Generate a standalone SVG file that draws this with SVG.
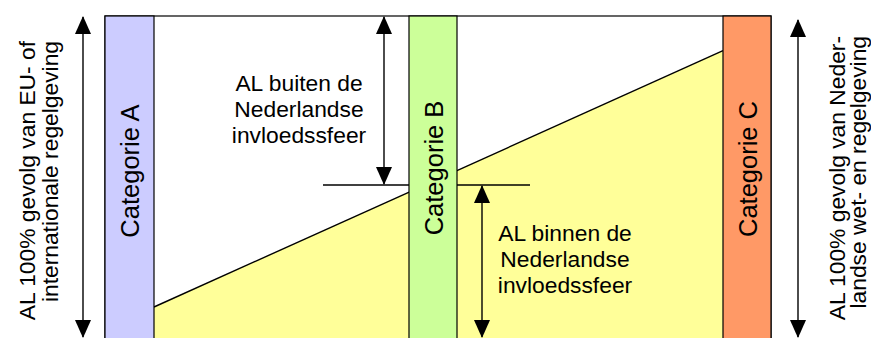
<svg xmlns="http://www.w3.org/2000/svg" width="871" height="338" viewBox="0 0 871 338">
<style>
.t{font-family:"Liberation Sans",Arial,sans-serif;font-size:22.8px;fill:#000}
.c{text-anchor:middle}
.e{text-anchor:end}
.cat{font-size:25.5px}
.bar{stroke:#000;stroke-width:1.2}
.ln{stroke:#000;stroke-width:1.4;fill:none}
</style>
<defs>
<marker id="ah" viewBox="0 0 18 16" refX="17" refY="8" markerWidth="18" markerHeight="16" markerUnits="userSpaceOnUse" orient="auto-start-reverse">
<path d="M0,0 L18,8 L0,16 Z" fill="#000"/>
</marker>
</defs>
<rect width="871" height="338" fill="#fff"/>
<g id="frame">
<rect x="105" y="16" width="666" height="340" fill="#fff" stroke="#000" stroke-width="1.2"/>
<polygon points="154,307 723,50.7 723,345 154,345" fill="#ffff99"/>
<line class="ln" x1="154" y1="307" x2="723" y2="50.7"/>
</g>
<g id="connectors">
<line class="ln" x1="323" y1="185" x2="530" y2="185"/>
<line class="ln" x1="83" y1="17" x2="83" y2="337" marker-start="url(#ah)" marker-end="url(#ah)"/>
<line class="ln" x1="798" y1="20" x2="798" y2="337" marker-start="url(#ah)" marker-end="url(#ah)"/>
<line class="ln" x1="384" y1="17" x2="384" y2="184" marker-start="url(#ah)" marker-end="url(#ah)"/>
<line class="ln" x1="482" y1="186" x2="482" y2="337" marker-start="url(#ah)" marker-end="url(#ah)"/>
</g>
<g id="catA">
<rect class="bar" x="105" y="16" width="49" height="340" fill="#ccccff"/>
<text class="t c cat" transform="translate(139,171) rotate(-90)">Categorie A</text>
</g>
<g id="catB">
<rect class="bar" x="409" y="16" width="48" height="340" fill="#ccff99"/>
<text class="t c cat" transform="translate(442.5,168) rotate(-90)">Categorie B</text>
</g>
<g id="catC">
<rect class="bar" x="723" y="16" width="48" height="340" fill="#ff9966"/>
<text class="t c cat" transform="translate(756.5,169) rotate(-90)">Categorie C</text>
</g>
<g id="buiten">
<text class="t c" x="299" y="91">AL buiten de</text>
<text class="t c" x="299" y="117">Nederlandse</text>
<text class="t c" x="299" y="143">invloedssfeer</text>
</g>
<g id="binnen">
<text class="t c" x="565" y="241">AL binnen de</text>
<text class="t c" x="565" y="267">Nederlandse</text>
<text class="t c" x="565" y="293">invloedssfeer</text>
</g>
<g id="left">
<text class="t e" transform="translate(34.5,41) rotate(-90)">AL 100% gevolg van EU- of</text>
<text class="t e" transform="translate(58,41) rotate(-90)">internationale regelgeving</text>
</g>
<g id="right">
<text class="t e" transform="translate(845,36) rotate(-90)">AL 100% gevolg van Neder-</text>
<text class="t e" transform="translate(866,36) rotate(-90)">landse wet- en regelgeving</text>
</g>
</svg>
